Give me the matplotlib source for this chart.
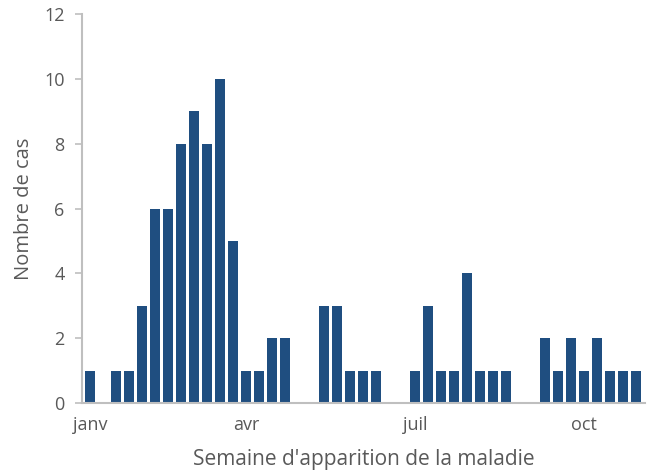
import matplotlib
matplotlib.use("Agg")
import matplotlib.pyplot as plt
import numpy as np

# weekly case counts
cases = [1, 0, 1, 1, 3, 6, 6, 8, 9, 8, 10, 5, 1, 1, 2, 2,
         0, 0, 3, 3, 1, 1, 1, 0, 0,
         1, 3, 1, 1, 4, 1, 1, 1, 0, 0,
         2, 1, 2, 1, 2, 1, 1, 1]
month_pos = [0, 12, 25, 38]
month_labels = ["janv", "avr", "juil", "oct"]

plt.rcParams['font.family'] = ['Open Sans', 'DejaVu Sans']
grey = "#595959"

fig = plt.figure(figsize=(6.52, 4.74), dpi=100)
ax = fig.add_axes([82 / 652, 1 - 403 / 474, (645 - 82) / 652, (403 - 14) / 474])

weeks = np.arange(len(cases))
ax.bar(weeks, cases, width=0.76, color="#1f4e80")

ax.set_xlim(-0.62, 42.7)
ax.set_ylim(0, 12)
ax.set_yticks(range(0, 13, 2))
ax.set_xticks(month_pos)
ax.set_xticklabels(month_labels)
ax.tick_params(labelsize=13, labelcolor=grey)
ax.tick_params(axis='y', length=5, width=1.2, color="#bfbfbf", pad=7.5)
ax.tick_params(axis='x', length=0, pad=9)

for s in ["top", "right"]:
    ax.spines[s].set_visible(False)
for s in ["left", "bottom"]:
    ax.spines[s].set_color("#bfbfbf")
    ax.spines[s].set_linewidth(1.5)

ax.set_xlabel("Semaine d'apparition de la maladie", fontsize=15, color=grey, labelpad=11.5)
ax.set_ylabel("Nombre de cas", fontsize=14.5, color=grey, labelpad=7)

fig.savefig("out.png", dpi=100)
